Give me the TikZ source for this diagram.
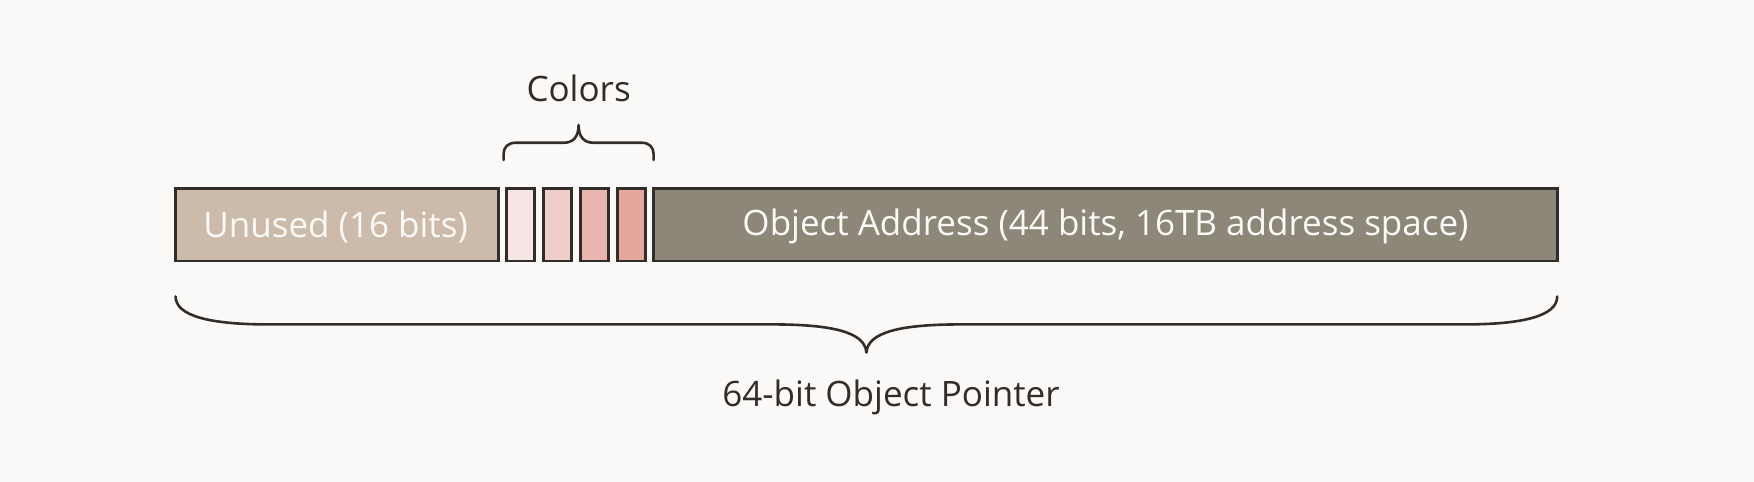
\documentclass[tikz,border=0pt]{standalone}
\usepackage{fontspec}
\setmainfont{Open Sans}
\definecolor{bgc}{HTML}{FBFAF8}
\definecolor{inkc}{HTML}{312D2A}
\definecolor{unusedc}{HTML}{CCBAAB}
\definecolor{addrc}{HTML}{8D877A}
\definecolor{cola}{HTML}{F7E5E3}
\definecolor{colb}{HTML}{F0CECA}
\definecolor{colc}{HTML}{E9B5AE}
\definecolor{cold}{HTML}{E5A69C}
\definecolor{lightc}{HTML}{FBF9F6}
\tikzset{
  field/.style={draw=inkc, line width=2.8pt, minimum height=72.7pt, inner sep=0pt, outer sep=0pt},
  colbox/.style={field, minimum width=28pt},
  label/.style={text=inkc, font=\fontsize{35}{40}\selectfont, inner sep=0pt},
  inlabel/.style={text=lightc, font=\fontsize{35}{40}\selectfont},
  bracec/.style={draw=inkc, line width=2.6pt, line cap=round, line join=round}
}
\begin{document}
\begin{tikzpicture}[x=1pt,y=-1pt]
\fill[bgc] (0,0) rectangle (1754,482);
\useasboundingbox (0,0) rectangle (1754,482);
\node[field, fill=unusedc, minimum width=323.6pt] (unused) at (337,224.6) {};
\node[inlabel] (unusedt) at (335.6,226.5) {Unused (16 bits)};
\node[colbox, fill=cola] (c1) at (520.7,224.6) {};
\node[colbox, fill=colb] (c2) at (557.6,224.6) {};
\node[colbox, fill=colc] (c3) at (594.4,224.6) {};
\node[colbox, fill=cold] (c4) at (631.1,224.6) {};
\node[field, fill=addrc, minimum width=904pt] (addr) at (1105.5,224.6) {};
\node[inlabel] (addrt) at (1105.5,226.5) {Object Address (44 bits, 16TB address space)};
% colors brace
\coordinate (cbl) at (503.6,160);
\coordinate (cbr) at (653.6,160);
\coordinate (cbt) at (578.6,125);
\draw[bracec] (cbl) -- (503.6,154) .. controls (503.6,147) and (508,142.7) .. (516,142.7)
  -- (564,142.7) .. controls (573,142.7) and (578.6,137) .. (cbt)
  .. controls (578.6,137) and (584.2,142.7) .. (593.2,142.7)
  -- (641.2,142.7) .. controls (649.2,142.7) and (653.6,147) .. (653.6,154) -- (cbr);
\node[label] (colors) at (578.6,88) {Colors};
% pointer brace
\coordinate (pbl) at (175.6,296.5);
\coordinate (pbr) at (1557.2,296.5);
\coordinate (pbt) at (866.4,352.5);
\draw[bracec] (pbl) .. controls (175.6,316) and (210,324.4) .. (268,324.4)
  -- (772,324.4) .. controls (832,324.4) and (865,332) .. (pbt)
  .. controls (867.8,332) and (900.8,324.4) .. (960.8,324.4)
  -- (1464.8,324.4) .. controls (1522.8,324.4) and (1557.2,316) .. (pbr);
\node[label] (pointer) at (891,397) {64-bit Object Pointer};
\end{tikzpicture}
\end{document}
